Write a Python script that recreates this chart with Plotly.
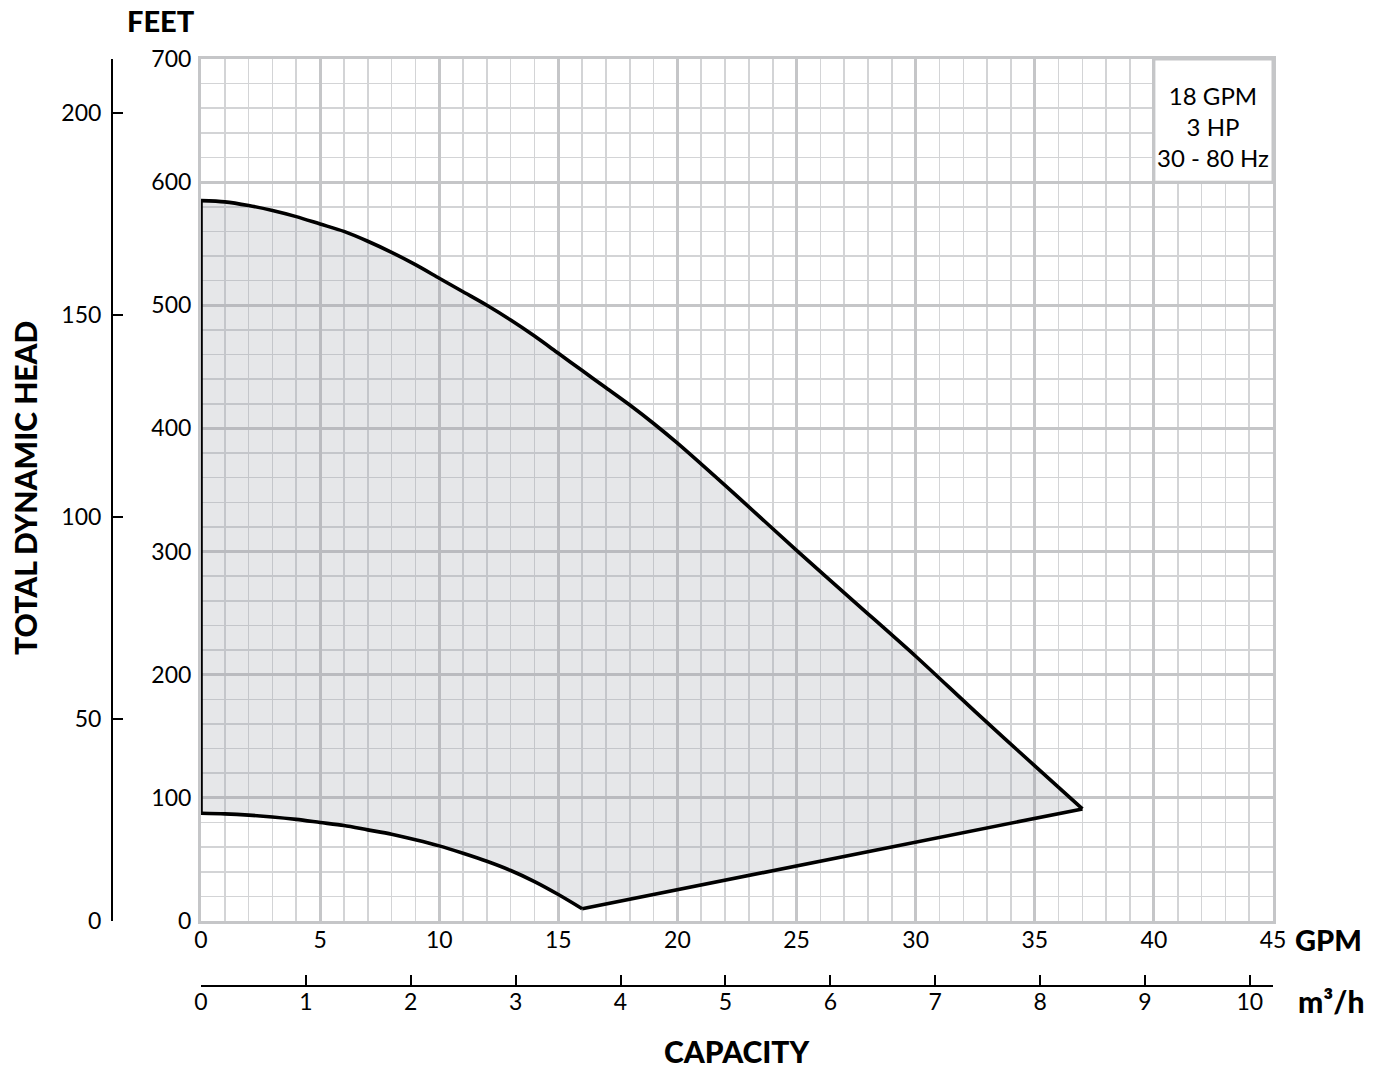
import plotly.graph_objects as go

# Data (GPM vs feet)
upper_gpm = [0, 1, 2, 3, 4, 5, 6, 7, 8, 9, 10, 11, 12, 13, 14, 15, 16, 17, 18, 19, 20,
             22.5, 25, 27.5, 30, 32.5, 35, 37]
upper_ft = [585, 584, 581, 577, 572, 566, 560, 552, 543, 533, 522, 511, 500, 488, 475,
            461, 447, 433, 419, 404, 388, 345, 301, 258, 215, 170, 126, 91]
lower_gpm = [0, 1, 2, 3, 4, 5, 6, 7, 8, 9, 10, 11, 12, 13, 14, 15, 16]
lower_ft = [87.5, 87, 86, 84.5, 82.5, 80, 77.5, 74, 70.5, 66, 61, 55, 48.5, 41, 32,
            21.5, 10]
end_gpm = [16, 37]
end_ft = [10, 91]

gpm_ticks = [0, 5, 10, 15, 20, 25, 30, 35, 40, 45]
ft_ticks = [0, 100, 200, 300, 400, 500, 600, 700]
m_ticks = [0, 50, 100, 150, 200]
m3h_ticks = [0, 1, 2, 3, 4, 5, 6, 7, 8, 9, 10]
info_text = ["18 GPM", "3 HP", "30 - 80 Hz"]

W, H = 1383, 1070
X0, X1, YT, YB = 201, 1273, 59, 921


def px(x):
    return x / W


def py(y):
    return (H - y) / H


FT_TO_M = 0.3048
GPM_PER_M3H = 4.402868

poly_x = upper_gpm + end_gpm[::-1] + lower_gpm[::-1] + [upper_gpm[0]]
poly_y = upper_ft + end_ft[::-1] + lower_ft[::-1] + [upper_ft[0]]

FONT = "Lato"
LW = 3.6
fig = go.Figure()
fig.add_trace(go.Scatter(
    x=poly_x, y=poly_y, mode="lines", fill="toself",
    fillcolor="rgba(150,155,165,0.24)",
    line=dict(color="rgba(0,0,0,0)", width=0), hoverinfo="skip", showlegend=False,
))
for xs, ys, shape in [
    (upper_gpm, upper_ft, "spline"),
    (lower_gpm, lower_ft, "spline"),
    (end_gpm, end_ft, "linear"),
    ([upper_gpm[0], lower_gpm[0]], [upper_ft[0], lower_ft[0]], "linear"),
]:
    fig.add_trace(go.Scatter(x=xs, y=ys, mode="lines",
                             line=dict(color="black", width=LW, shape=shape, smoothing=0.8),
                             hoverinfo="skip", showlegend=False))
fig.add_trace(go.Scatter(x=[0], y=[0], yaxis="y2", mode="markers",
                         marker=dict(opacity=0), showlegend=False, hoverinfo="skip"))
fig.add_trace(go.Scatter(x=[0], y=[0], xaxis="x2", mode="markers",
                         marker=dict(opacity=0), showlegend=False, hoverinfo="skip"))

major_col = "#c5c6c8"
minor_col = "#d3d4d6"
TF = 23

fig.update_layout(
    width=W, height=H,
    margin=dict(l=0, r=0, t=0, b=0),
    paper_bgcolor="white", plot_bgcolor="white",
    font=dict(family=FONT, color="black", size=TF),
    xaxis=dict(
        domain=[px(X0), px(X1)], range=[0, 45],
        tickvals=gpm_ticks, ticktext=[str(v) for v in gpm_ticks],
        showgrid=True, gridcolor=major_col, gridwidth=3,
        minor=dict(dtick=1, showgrid=True, gridcolor=minor_col, gridwidth=1.6),
        showline=True, linecolor=major_col, linewidth=3, mirror=True,
        zeroline=False, ticks="", ticklabelstandoff=-4,
        tickfont=dict(size=TF), automargin=False, layer="below traces",
    ),
    yaxis=dict(
        domain=[py(YB), py(YT)], range=[0, 700],
        tickvals=ft_ticks, ticktext=[str(v) for v in ft_ticks],
        showgrid=True, gridcolor=major_col, gridwidth=3,
        minor=dict(dtick=20, showgrid=True, gridcolor=minor_col, gridwidth=1.6),
        showline=True, linecolor=major_col, linewidth=3, mirror=True,
        zeroline=False, ticks="", ticklabelstandoff=2,
        tickfont=dict(size=TF), automargin=False, layer="below traces",
    ),
    yaxis2=dict(
        overlaying="y", anchor="free", position=px(112), side="left",
        range=[0, 700 * FT_TO_M], tickvals=m_ticks,
        ticktext=[str(v) for v in m_ticks],
        showgrid=False, zeroline=False,
        showline=True, linecolor="black", linewidth=2,
        ticks="inside", ticklen=10, tickwidth=2, tickcolor="black",
        ticklabelstandoff=5, tickfont=dict(size=TF), automargin=False,
    ),
    xaxis2=dict(
        overlaying="x", anchor="free", position=py(986), side="bottom",
        range=[0, 45 / GPM_PER_M3H], tickvals=m3h_ticks,
        ticktext=[str(v) for v in m3h_ticks],
        showgrid=False, zeroline=False,
        showline=True, linecolor="black", linewidth=2,
        ticks="inside", ticklen=10, tickwidth=2, tickcolor="black",
        ticklabelstandoff=-5, tickfont=dict(size=TF), automargin=False,
    ),
)

fig.add_shape(type="rect", xref="x", yref="y", x0=40, x1=45, y0=600, y1=700,
              fillcolor="white", line=dict(color=major_col, width=3), layer="above")
fig.add_annotation(x=42.5, y=645, xref="x", yref="y", text="<br>".join(info_text),
                   showarrow=False, font=dict(size=24, family=FONT), align="center",
                   xanchor="center", yanchor="middle")


def label(text, x, y, size=28, angle=0):
    fig.add_annotation(x=px(x), y=py(y), xref="paper", yref="paper", text=text,
                       showarrow=False, xanchor="center", yanchor="middle",
                       textangle=angle,
                       font=dict(family=FONT, size=size, color="black", weight=900))


label("FEET", 161, 20, 29)
label("TOTAL DYNAMIC HEAD", 25, 488, 30, -90)
label("GPM", 1328, 939, 29)
label("m³/h", 1331, 1001, 30)
label("CAPACITY", 737, 1051, 30)

fig.write_html(
    "out.html",
    config={"displayModeBar": False, "staticPlot": True},
    post_script="document.body.style.margin='0';document.body.style.overflow='hidden';",
)
